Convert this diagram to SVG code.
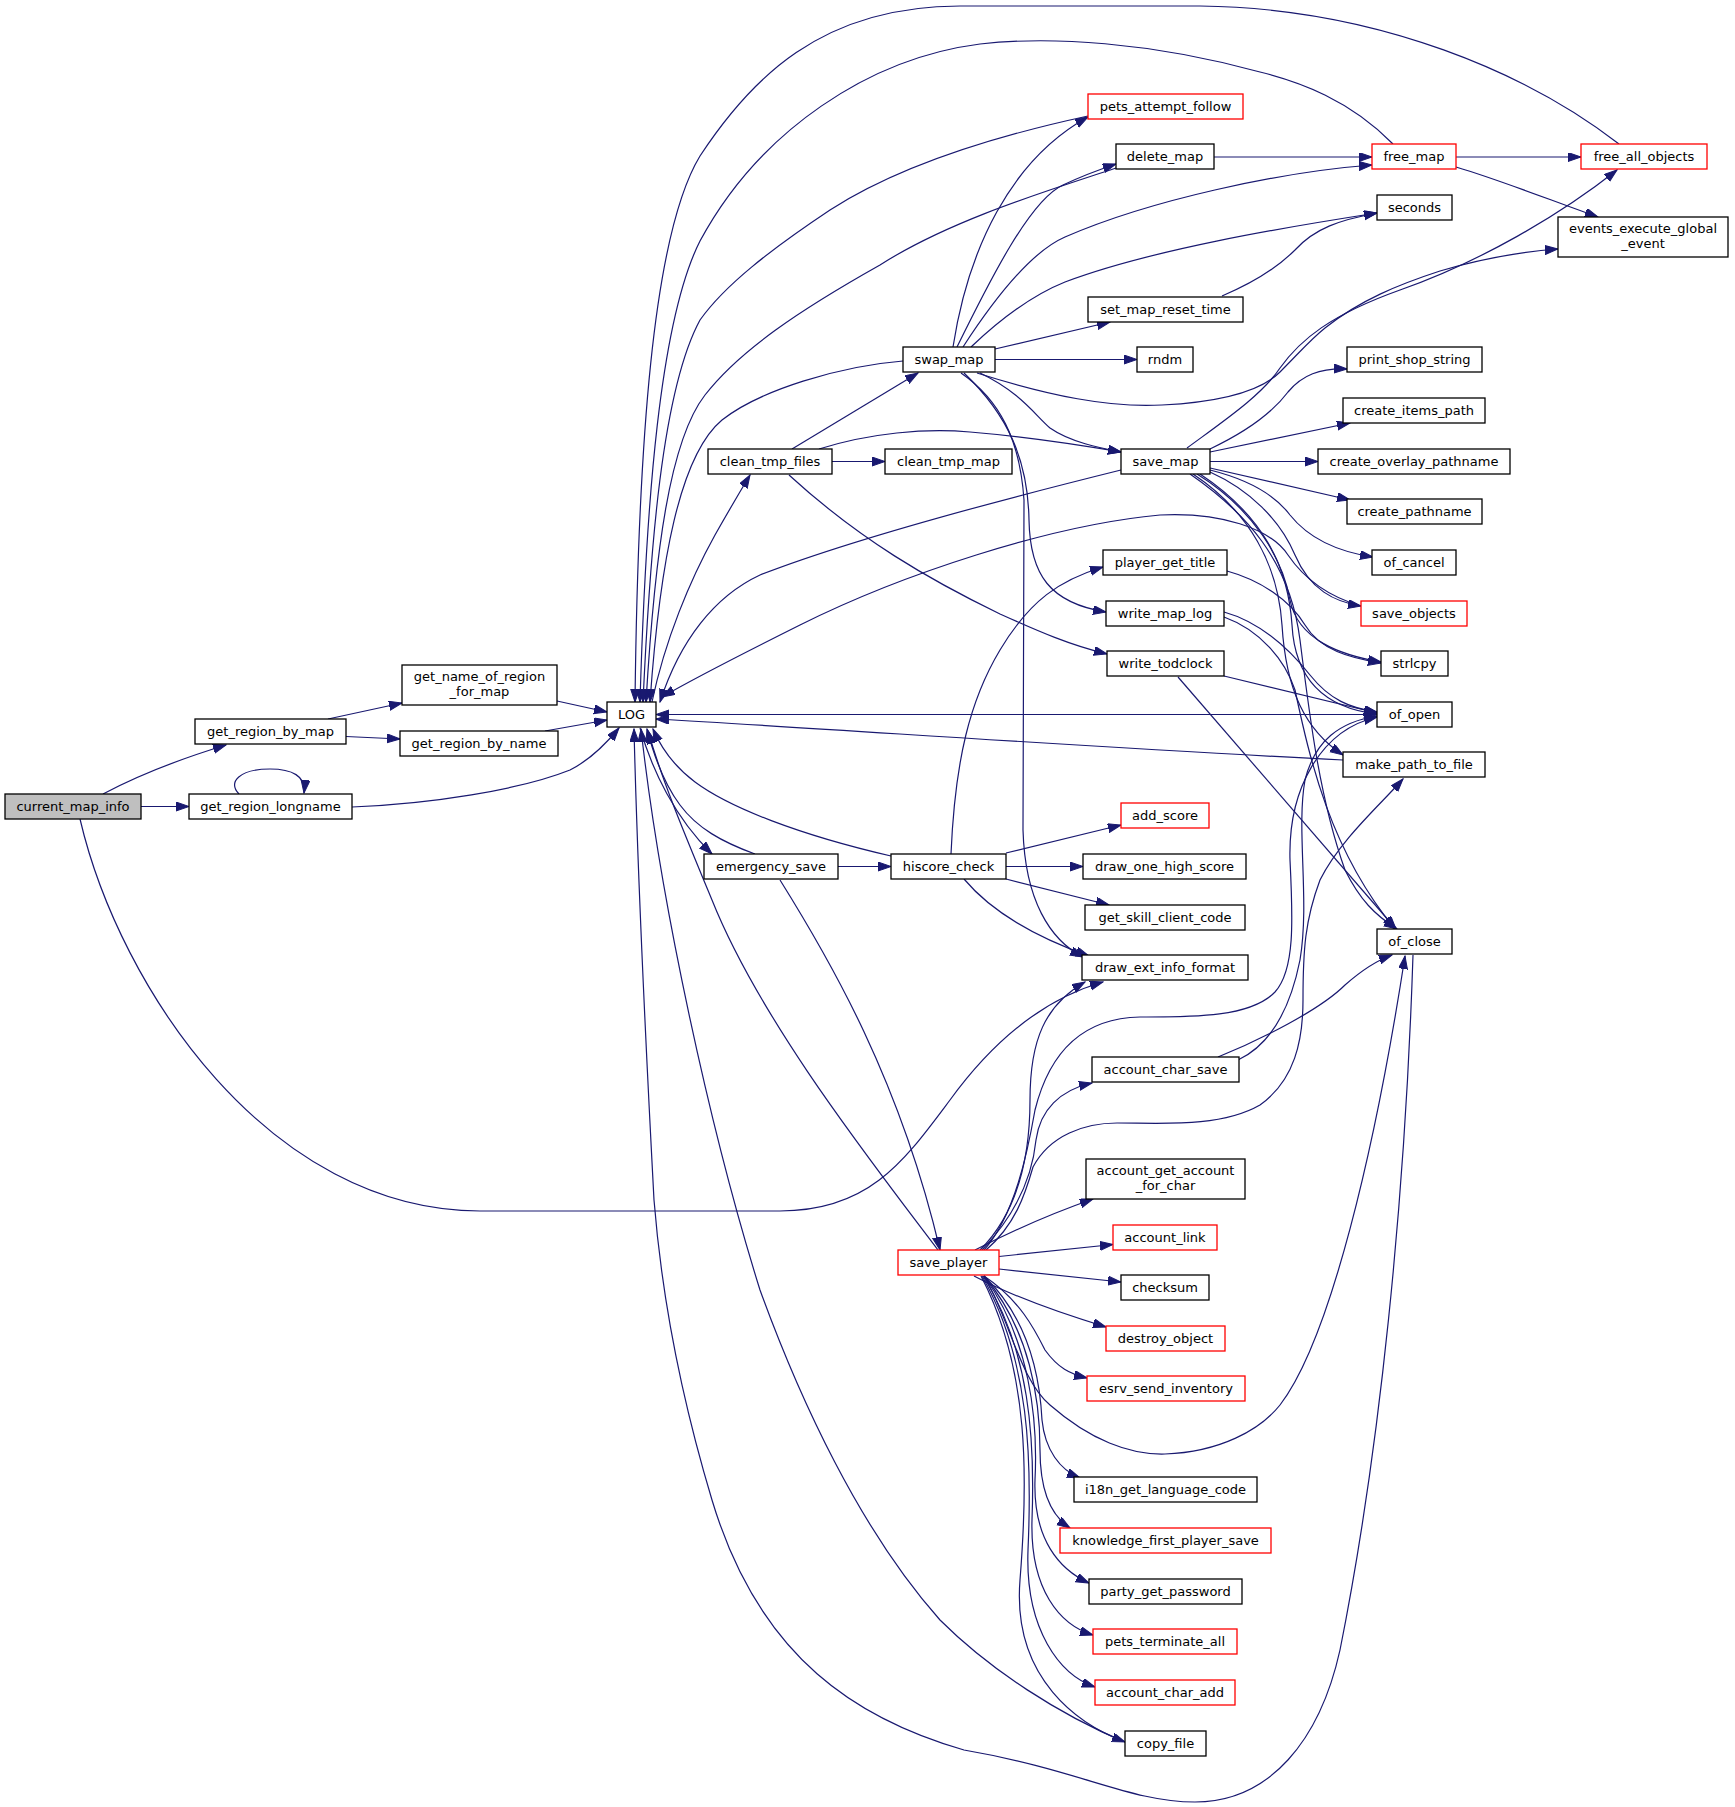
<svg xmlns="http://www.w3.org/2000/svg" width="1735" height="1807" viewBox="0 0 1735 1807">
<defs>
<marker id="a" markerUnits="userSpaceOnUse" markerWidth="14" markerHeight="10" refX="13" refY="4.5" orient="auto">
<path d="M0,0 L13,4.5 L0,9 z" fill="#191970" stroke="#191970" stroke-width="1"/>
</marker>
</defs>
<style>
.n rect{fill:#ffffff;stroke:#000000;stroke-width:1.3}
.r rect{stroke:#ff0000}
.root rect{fill:#bfbfbf}
text{font-family:"DejaVu Sans","Liberation Sans",sans-serif;font-size:13px;text-anchor:middle;fill:#000000}
#edges path{fill:none;stroke:#191970;stroke-width:1.2;marker-end:url(#a)}
</style>
<rect x="0" y="0" width="1735" height="1807" fill="#ffffff"/>
<g id="edges">
<path d="M103,794 C135,777 180,759 226,745"/>
<path d="M141,806.5 L189,806.5"/>
<path d="M80,819 C120,990 270,1211 480,1211 L780,1211 C870,1211 905,1160 950,1100 C990,1045 1040,1000 1103,982"/>
<path d="M328,719 L402,703"/>
<path d="M346,736.5 L400,739"/>
<path d="M239,794 C227,782 240,769 270,769 C292,769 306,776 304,793"/>
<path d="M352,807 C430,804 520,790 570,770 C590,760 605,745 619,728"/>
<path d="M557,701 L607,712"/>
<path d="M545,731 L607,720"/>
<path d="M652,702 C665,640 690,580 715,535 C728,512 738,495 750,475"/>
<path d="M640,728 C652,770 675,818 712,854"/>
<path d="M755,854 C722,842 697,828 680,805 C665,785 655,760 647,729"/>
<path d="M838,866.5 L891,866.5"/>
<path d="M780,880 C830,960 900,1080 940,1250"/>
<path d="M891,856 C800,835 730,808 695,782 C675,767 662,750 653,729"/>
<path d="M792,449 L918,373"/>
<path d="M832,461.5 L885,461.5"/>
<path d="M819,449 C870,433 925,428 970,432 C1030,437 1080,445 1121,452"/>
<path d="M789,475 C860,540 930,580 1000,614 C1040,632 1070,645 1107,654"/>
<path d="M903,361 C840,366 760,390 722,420 C680,455 660,560 650,702"/>
<path d="M953,347 C968,250 1010,160 1088,117"/>
<path d="M957,347 C990,280 1030,200 1063,185 C1080,177 1098,170 1116,164"/>
<path d="M963,347 C1000,290 1035,250 1065,237 C1150,200 1280,172 1372,165"/>
<path d="M971,347 C1010,310 1040,292 1065,282 C1150,250 1280,228 1377,213"/>
<path d="M995,349 L1110,322"/>
<path d="M995,359.5 L1137,359.5"/>
<path d="M980,373 C1020,392 1035,415 1050,428 C1070,442 1100,448 1121,452"/>
<path d="M977,373 C1050,396 1110,408 1162,405 C1220,402 1260,392 1280,372 C1300,352 1310,340 1325,328 C1360,300 1400,284 1440,271 C1480,259 1520,252 1558,249"/>
<path d="M964,373 C1008,415 1028,460 1029,520 C1030,575 1050,603 1106,612"/>
<path d="M961,373 C1000,400 1020,440 1024,500 L1023,830 C1025,900 1050,940 1083,957"/>
<path d="M1214,157 L1372,157"/>
<path d="M1116,168 C1050,190 950,220 880,265 C800,310 740,350 705,395 C670,440 655,550 646,702"/>
<path d="M1456,157 L1581,157"/>
<path d="M1456,167 C1500,180 1550,200 1598,217"/>
<path d="M1393,144 C1350,100 1300,82 1260,72 C1150,42 1050,36 980,44 C870,58 760,130 700,241 C660,320 646,500 640,702"/>
<path d="M1619,144 C1530,75 1380,8 1200,6 L960,6 C820,6 750,80 700,156 C652,235 638,450 635,702"/>
<path d="M1088,116 C1000,135 900,165 830,210 C770,250 725,285 700,320 C662,390 650,550 643,702"/>
<path d="M1222,296 C1260,280 1280,265 1295,250 C1315,228 1340,220 1377,213"/>
<path d="M1121,470 C1000,500 850,540 760,575 C715,596 680,640 660,702"/>
<path d="M1210,449 C1250,430 1273,412 1288,392 C1302,375 1320,368 1347,369"/>
<path d="M1210,452 L1350,423"/>
<path d="M1210,461.5 L1318,461.5"/>
<path d="M1210,468 L1350,500"/>
<path d="M1210,470 C1250,480 1275,495 1290,515 C1310,540 1340,552 1373,557"/>
<path d="M1210,472 C1250,490 1280,520 1295,555 C1310,590 1335,602 1361,606"/>
<path d="M1197,474 C1255,510 1283,560 1290,600 C1298,640 1340,655 1381,662"/>
<path d="M1200,474 C1262,515 1288,565 1292,625 C1295,680 1325,708 1377,714"/>
<path d="M1193,474 C1250,512 1278,565 1282,625 C1286,690 1305,730 1343,755"/>
<path d="M1190,474 C1245,512 1290,560 1300,640 C1310,720 1320,800 1345,870 C1360,900 1375,915 1397,929"/>
<path d="M1187,448 C1225,420 1262,395 1280,368 C1300,340 1330,315 1400,290 C1480,262 1560,215 1617,170"/>
<path d="M1361,606 C1330,597 1305,580 1288,555 C1270,528 1220,512 1160,515 C1050,525 900,575 800,625 C740,655 700,675 662,697"/>
<path d="M1227,571 C1260,580 1290,600 1305,625 C1320,650 1350,658 1381,663"/>
<path d="M1224,612 C1260,622 1290,650 1310,675 C1330,700 1350,708 1377,712"/>
<path d="M1224,617 C1260,630 1285,660 1295,690 C1310,760 1330,850 1395,929"/>
<path d="M1224,676 L1377,713"/>
<path d="M1178,677 L1396,929"/>
<path d="M1377,714.5 L656,714.5"/>
<path d="M1343,760 C1100,748 850,730 656,719"/>
<path d="M951,854 C955,760 970,700 1000,650 C1030,600 1060,580 1103,567"/>
<path d="M1006,853 L1121,825"/>
<path d="M1006,866.5 L1083,866.5"/>
<path d="M1006,879 L1109,905"/>
<path d="M964,879 C990,910 1030,935 1089,956"/>
<path d="M1218,1057 C1260,1040 1320,1010 1345,985 C1362,970 1378,960 1392,955"/>
<path d="M1238,1060 C1270,1045 1290,1010 1300,960 C1310,900 1296,830 1305,780 C1315,740 1340,722 1377,716"/>
<path d="M986,1250 C1015,1225 1025,1195 1033,1167 C1050,1135 1085,1123 1117,1123 C1160,1123 1220,1128 1260,1105 C1295,1080 1303,1040 1303,1000 C1303,950 1305,920 1320,880 C1340,840 1380,805 1403,779"/>
<path d="M984,1250 C1015,1215 1028,1150 1035,1110 C1050,1050 1085,1018 1140,1017 C1190,1017 1250,1018 1275,992 C1295,970 1293,920 1290,860 C1288,790 1320,730 1377,717"/>
<path d="M984,1276 C1010,1320 1020,1380 1050,1405 C1090,1440 1130,1455 1165,1454 C1220,1452 1260,1430 1280,1405 C1330,1340 1375,1150 1405,956"/>
<path d="M1413,955 C1405,1200 1380,1450 1340,1650 C1320,1740 1270,1802 1195,1802 C1130,1802 1080,1770 964,1750 C860,1720 760,1660 712,1500 C682,1400 662,1300 654,1200 C646,1050 637,850 634,729"/>
<path d="M1125,1742 C1060,1715 990,1670 940,1620 C860,1530 800,1400 760,1290 C710,1130 660,900 641,729"/>
<path d="M938,1250 C870,1160 760,1020 712,900 C683,830 662,780 648,731"/>
<path d="M975,1250 C1010,1232 1050,1214 1093,1199"/>
<path d="M980,1250 C1020,1210 1030,1150 1030,1100 C1030,1040 1045,1005 1085,982"/>
<path d="M982,1250 C1020,1210 1033,1170 1036,1140 C1040,1110 1060,1090 1092,1083"/>
<path d="M999,1256.5 L1113,1244.5"/>
<path d="M999,1269 L1121,1282"/>
<path d="M974,1276 C1010,1295 1050,1310 1106,1327"/>
<path d="M984,1276 C1020,1300 1035,1330 1045,1350 C1058,1368 1070,1374 1087,1378"/>
<path d="M984,1276 C1030,1320 1040,1380 1042,1420 C1045,1450 1060,1470 1080,1478"/>
<path d="M984,1276 C1030,1330 1040,1400 1040,1450 C1040,1490 1050,1515 1070,1528"/>
<path d="M984,1276 C1030,1340 1038,1420 1035,1480 C1033,1540 1060,1570 1089,1583"/>
<path d="M983,1276 C1030,1350 1035,1440 1032,1520 C1030,1590 1060,1625 1093,1635"/>
<path d="M982,1276 C1030,1360 1032,1460 1028,1550 C1025,1630 1060,1675 1095,1687"/>
<path d="M981,1276 C1030,1370 1028,1480 1020,1580 C1012,1680 1080,1725 1125,1742"/>
</g>
<g id="n_current_map_info" class="n root"><rect x="5" y="794" width="136" height="25"/><text x="73" y="811">current_map_info</text></g>
<g id="n_get_region_by_map" class="n"><rect x="195" y="719" width="151" height="25"/><text x="270.5" y="736">get_region_by_map</text></g>
<g id="n_get_region_longname" class="n"><rect x="189" y="794" width="163" height="25"/><text x="270.5" y="811">get_region_longname</text></g>
<g id="n_get_name_of_region_for_map" class="n"><rect x="402" y="665" width="155" height="40"/><text x="479.5" y="681">get_name_of_region</text><text x="479.5" y="696">_for_map</text></g>
<g id="n_get_region_by_name" class="n"><rect x="400" y="731" width="158" height="25"/><text x="479" y="748">get_region_by_name</text></g>
<g id="n_LOG" class="n"><rect x="607" y="702" width="49" height="25"/><text x="631.5" y="719">LOG</text></g>
<g id="n_clean_tmp_files" class="n"><rect x="708" y="449" width="124" height="25"/><text x="770" y="466">clean_tmp_files</text></g>
<g id="n_emergency_save" class="n"><rect x="704" y="854" width="134" height="25"/><text x="771" y="871">emergency_save</text></g>
<g id="n_swap_map" class="n"><rect x="903" y="347" width="92" height="25"/><text x="949" y="364">swap_map</text></g>
<g id="n_clean_tmp_map" class="n"><rect x="885" y="449" width="127" height="25"/><text x="948.5" y="466">clean_tmp_map</text></g>
<g id="n_hiscore_check" class="n"><rect x="891" y="854" width="115" height="25"/><text x="948.5" y="871">hiscore_check</text></g>
<g id="n_save_player" class="n r"><rect x="898" y="1250" width="101" height="25"/><text x="948.5" y="1267">save_player</text></g>
<g id="n_pets_attempt_follow" class="n r"><rect x="1088" y="94" width="155" height="25"/><text x="1165.5" y="111">pets_attempt_follow</text></g>
<g id="n_delete_map" class="n"><rect x="1116" y="144" width="98" height="25"/><text x="1165" y="161">delete_map</text></g>
<g id="n_set_map_reset_time" class="n"><rect x="1088" y="297" width="155" height="25"/><text x="1165.5" y="314">set_map_reset_time</text></g>
<g id="n_rndm" class="n"><rect x="1137" y="347" width="56" height="25"/><text x="1165" y="364">rndm</text></g>
<g id="n_save_map" class="n"><rect x="1121" y="449" width="89" height="25"/><text x="1165.5" y="466">save_map</text></g>
<g id="n_player_get_title" class="n"><rect x="1103" y="550" width="124" height="25"/><text x="1165" y="567">player_get_title</text></g>
<g id="n_write_map_log" class="n"><rect x="1106" y="601" width="118" height="25"/><text x="1165" y="618">write_map_log</text></g>
<g id="n_write_todclock" class="n"><rect x="1107" y="651" width="117" height="25"/><text x="1165.5" y="668">write_todclock</text></g>
<g id="n_add_score" class="n r"><rect x="1121" y="803" width="88" height="25"/><text x="1165" y="820">add_score</text></g>
<g id="n_draw_one_high_score" class="n"><rect x="1083" y="854" width="163" height="25"/><text x="1164.5" y="871">draw_one_high_score</text></g>
<g id="n_get_skill_client_code" class="n"><rect x="1085" y="905" width="160" height="25"/><text x="1165" y="922">get_skill_client_code</text></g>
<g id="n_draw_ext_info_format" class="n"><rect x="1082" y="955" width="166" height="25"/><text x="1165" y="972">draw_ext_info_format</text></g>
<g id="n_account_char_save" class="n"><rect x="1092" y="1057" width="147" height="25"/><text x="1165.5" y="1074">account_char_save</text></g>
<g id="n_account_get_account_for_char" class="n"><rect x="1086" y="1159" width="159" height="40"/><text x="1165.5" y="1175">account_get_account</text><text x="1165.5" y="1190">_for_char</text></g>
<g id="n_account_link" class="n r"><rect x="1113" y="1225" width="104" height="25"/><text x="1165" y="1242">account_link</text></g>
<g id="n_checksum" class="n"><rect x="1121" y="1275" width="88" height="25"/><text x="1165" y="1292">checksum</text></g>
<g id="n_destroy_object" class="n r"><rect x="1106" y="1326" width="119" height="25"/><text x="1165.5" y="1343">destroy_object</text></g>
<g id="n_esrv_send_inventory" class="n r"><rect x="1087" y="1376" width="158" height="25"/><text x="1166" y="1393">esrv_send_inventory</text></g>
<g id="n_i18n_get_language_code" class="n"><rect x="1074" y="1477" width="183" height="25"/><text x="1165.5" y="1494">i18n_get_language_code</text></g>
<g id="n_knowledge_first_player_save" class="n r"><rect x="1060" y="1528" width="211" height="25"/><text x="1165.5" y="1545">knowledge_first_player_save</text></g>
<g id="n_party_get_password" class="n"><rect x="1089" y="1579" width="153" height="25"/><text x="1165.5" y="1596">party_get_password</text></g>
<g id="n_pets_terminate_all" class="n r"><rect x="1093" y="1629" width="144" height="25"/><text x="1165" y="1646">pets_terminate_all</text></g>
<g id="n_account_char_add" class="n r"><rect x="1095" y="1680" width="140" height="25"/><text x="1165" y="1697">account_char_add</text></g>
<g id="n_copy_file" class="n"><rect x="1125" y="1731" width="81" height="25"/><text x="1165.5" y="1748">copy_file</text></g>
<g id="n_free_map" class="n r"><rect x="1372" y="144" width="84" height="25"/><text x="1414" y="161">free_map</text></g>
<g id="n_seconds" class="n"><rect x="1377" y="195" width="75" height="25"/><text x="1414.5" y="212">seconds</text></g>
<g id="n_print_shop_string" class="n"><rect x="1347" y="347" width="135" height="25"/><text x="1414.5" y="364">print_shop_string</text></g>
<g id="n_create_items_path" class="n"><rect x="1343" y="398" width="142" height="25"/><text x="1414" y="415">create_items_path</text></g>
<g id="n_create_overlay_pathname" class="n"><rect x="1318" y="449" width="192" height="25"/><text x="1414" y="466">create_overlay_pathname</text></g>
<g id="n_create_pathname" class="n"><rect x="1347" y="499" width="135" height="25"/><text x="1414.5" y="516">create_pathname</text></g>
<g id="n_of_cancel" class="n"><rect x="1372" y="550" width="84" height="25"/><text x="1414" y="567">of_cancel</text></g>
<g id="n_save_objects" class="n r"><rect x="1361" y="601" width="106" height="25"/><text x="1414" y="618">save_objects</text></g>
<g id="n_strlcpy" class="n"><rect x="1381" y="651" width="67" height="25"/><text x="1414.5" y="668">strlcpy</text></g>
<g id="n_of_open" class="n"><rect x="1377" y="702" width="75" height="25"/><text x="1414.5" y="719">of_open</text></g>
<g id="n_make_path_to_file" class="n"><rect x="1343" y="752" width="142" height="25"/><text x="1414" y="769">make_path_to_file</text></g>
<g id="n_of_close" class="n"><rect x="1377" y="929" width="75" height="25"/><text x="1414.5" y="946">of_close</text></g>
<g id="n_free_all_objects" class="n r"><rect x="1581" y="144" width="126" height="25"/><text x="1644" y="161">free_all_objects</text></g>
<g id="n_events_execute_global_event" class="n"><rect x="1558" y="217" width="170" height="40"/><text x="1643" y="233">events_execute_global</text><text x="1643" y="248">_event</text></g>
</svg>
